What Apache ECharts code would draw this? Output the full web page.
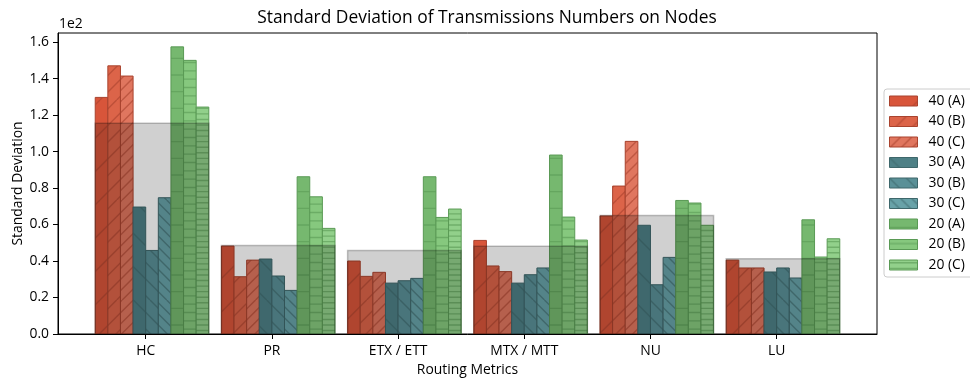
<!DOCTYPE html>
<html>
<head>
<meta charset="utf-8">
<script src="https://cdn.jsdelivr.net/npm/echarts@6/dist/echarts.min.js"></script>
<style>
  html, body { margin: 0; padding: 0; background: #fff; }
  #chart { width: 970px; height: 378px; }
</style>
</head>
<body>
<div id="chart"></div>
<script>
// Routing metrics on the x axis, one group of nine bars per metric
const categories = ['HC', 'PR', 'ETX / ETT', 'MTX / MTT', 'NU', 'LU'];
const seriesNames = ['40 (A)', '40 (B)', '40 (C)', '30 (A)', '30 (B)', '30 (C)', '20 (A)', '20 (B)', '20 (C)'];

// Standard deviation of transmission counts per node
const s40A = [129.7, 48.2, 40.0, 51.3, 64.7, 40.5];
const s40B = [147.0, 31.4, 31.6, 37.3, 81.1, 36.2];
const s40C = [141.4, 40.5, 33.8, 34.2, 105.6, 36.2];
const s30A = [69.6, 41.1, 27.9, 27.9, 59.6, 34.0];
const s30B = [45.8, 31.8, 29.2, 32.5, 27.0, 36.2];
const s30C = [74.7, 23.9, 30.5, 36.2, 42.0, 30.7];
const s20A = [157.4, 86.2, 86.2, 98.1, 73.2, 62.6];
const s20B = [150.0, 75.2, 63.9, 64.1, 71.8, 42.2];
const s20C = [124.4, 57.9, 68.5, 51.5, 59.6, 52.2];

const yTicks = [0, 20, 40, 60, 80, 100, 120, 140, 160];
const xTicks = [0, 1, 2, 3, 4, 5];

const allSeries = [s40A, s40B, s40C, s30A, s30B, s30C, s20A, s20B, s20C];

// Fill, edge and hatch of each series
const fills = ['#d8553a', '#dc6449', '#e0765f', '#4e8086', '#5a9097', '#68a2a8', '#76b86f', '#86c87e', '#92d08b'];
const edges = ['#a9432e', '#a9432e', '#a9432e', '#3e676b', '#3e676b', '#3e676b', '#5a9a55', '#5a9a55', '#5a9a55'];
const hatchDir = ['ne', 'ne', 'ne', 'nw', 'nw', 'nw', 'h', 'h', 'h'];
const hatchDensity = [1, 2, 3, 1, 2, 3, 1, 2, 3];

function hatchPattern(fill, line, dir, n) {
  const c = document.createElement('canvas');
  c.width = 100; c.height = 100;
  const g = c.getContext('2d');
  g.fillStyle = fill;
  g.fillRect(0, 0, 100, 100);
  g.strokeStyle = line;
  g.globalAlpha = 0.6;
  g.lineWidth = 1.4;
  g.beginPath();
  if (dir === 'h') {
    const step = 100 / (6 * n);
    for (let k = 0; k < 6 * n; k++) {
      const y = step / 2 + k * step;
      g.moveTo(0, y); g.lineTo(100, y);
    }
  } else {
    const step = 100 / (3 * n);
    for (let k = -3 * n; k <= 6 * n; k++) {
      const c0 = k * step;
      if (dir === 'ne') { g.moveTo(c0, 0); g.lineTo(c0 - 100, 100); }
      else { g.moveTo(c0, 0); g.lineTo(c0 + 100, 100); }
    }
  }
  g.stroke();
  return { image: c, repeat: 'repeat' };
}

const patterns = fills.map((f, k) => hatchPattern(f, edges[k], hatchDir[k], hatchDensity[k]));

// Group mean drawn as a translucent band over each group
const groupMeans = categories.map((_, i) => {
  let s = 0;
  allSeries.forEach(arr => { s += arr[i]; });
  return s / allSeries.length;
});

const BAR_W = 0.1;

function barRenderer(k) {
  return function (params, api) {
    const cat = api.value(0);
    const v = api.value(1);
    const x0 = cat + (k - 4) * BAR_W;
    const p0 = api.coord([x0, 0]);
    const p1 = api.coord([x0 + BAR_W, v]);
    return {
      type: 'rect',
      shape: { x: p0[0], y: p1[1], width: p1[0] - p0[0], height: p0[1] - p1[1] },
      style: { fill: patterns[k], stroke: edges[k], lineWidth: 1 }
    };
  };
}

function meanRenderer(params, api) {
  const cat = api.value(0);
  const v = api.value(1);
  const p0 = api.coord([cat - 0.4, 0]);
  const p1 = api.coord([cat + 0.5, v]);
  return {
    type: 'rect',
    shape: { x: p0[0], y: p1[1], width: p1[0] - p0[0], height: p0[1] - p1[1] },
    style: { fill: 'rgba(0,0,0,0.185)', stroke: 'rgba(0,0,0,0.24)', lineWidth: 1.5 }
  };
}

const series = allSeries.map((arr, k) => ({
  name: seriesNames[k],
  type: 'custom',
  renderItem: barRenderer(k),
  itemStyle: { color: patterns[k], borderColor: edges[k], borderWidth: 1 },
  data: arr.map((v, i) => [i, v]),
  z: 2
}));

series.push({
  name: 'mean',
  type: 'custom',
  renderItem: meanRenderer,
  data: groupMeans.map((v, i) => [i, v]),
  silent: true,
  z: 3
});

const FONT = 'Open Sans';
const chart = echarts.init(document.getElementById('chart'), null, { renderer: 'canvas' });

chart.setOption({
  animation: false,
  textStyle: { fontFamily: FONT },
  grid: {
    left: 58, right: 93, top: 33, bottom: 44,
    containLabel: false, outerBoundsMode: 'none',
    show: true, borderColor: '#000', borderWidth: 1, backgroundColor: 'transparent'
  },
  graphic: [
    {
      type: 'text', x: 487, y: 18, z: 20,
      style: {
        text: 'Standard Deviation of Transmissions Numbers on Nodes',
        fontFamily: FONT, fontSize: 17.4, fill: '#000', align: 'center', verticalAlign: 'middle'
      }
    },
    {
      type: 'text', x: 59, y: 24.5, z: 20,
      style: { text: '1e2', fontFamily: FONT, fontSize: 13.9, fill: '#000', align: 'left', verticalAlign: 'middle' }
    }
  ],
  legend: {
    orient: 'vertical',
    left: 884, top: 89,
    padding: [5, 8, 5, 5],
    itemWidth: 28, itemHeight: 10, itemGap: 6.5,
    backgroundColor: 'rgba(255,255,255,0.8)',
    borderColor: '#cccccc', borderWidth: 1, borderRadius: 3,
    selectedMode: false,
    textStyle: { fontFamily: FONT, fontSize: 13.9, color: '#000', lineHeight: 14, padding: [0, 0, 0, 6] },
    data: seriesNames.map((n, k) => ({
      name: n, icon: 'rect',
      itemStyle: { color: patterns[k], borderColor: edges[k], borderWidth: 1 }
    }))
  },
  xAxis: {
    type: 'value', min: -0.695, max: 5.795,
    name: 'Routing Metrics', nameLocation: 'middle', nameGap: 29, nameMoveOverlap: false,
    nameTextStyle: { fontFamily: FONT, fontSize: 13.9, color: '#000' },
    axisLine: { show: true, onZero: false, lineStyle: { color: '#000', width: 1 } },
    axisTick: { show: true, customValues: xTicks, length: 5, lineStyle: { color: '#000', width: 1 } },
    axisLabel: {
      customValues: xTicks, formatter: v => categories[Math.round(v)],
      margin: 10, fontFamily: FONT, fontSize: 13.9, color: '#000'
    },
    splitLine: { show: false },
    z: 10
  },
  yAxis: {
    type: 'value', min: 0, max: 165,
    name: 'Standard Deviation', nameLocation: 'middle', nameGap: 33, nameMoveOverlap: false,
    nameTextStyle: { fontFamily: FONT, fontSize: 13.9, color: '#000' },
    axisLine: { show: true, onZero: false, lineStyle: { color: '#000', width: 1 } },
    axisTick: { show: true, customValues: yTicks, length: 5, lineStyle: { color: '#000', width: 1 } },
    axisLabel: {
      customValues: yTicks, formatter: v => (v / 100).toFixed(1),
      margin: 9, fontFamily: FONT, fontSize: 13.9, color: '#000'
    },
    splitLine: { show: false },
    z: 10
  },
  series: series
});
</script>
</body>
</html>
